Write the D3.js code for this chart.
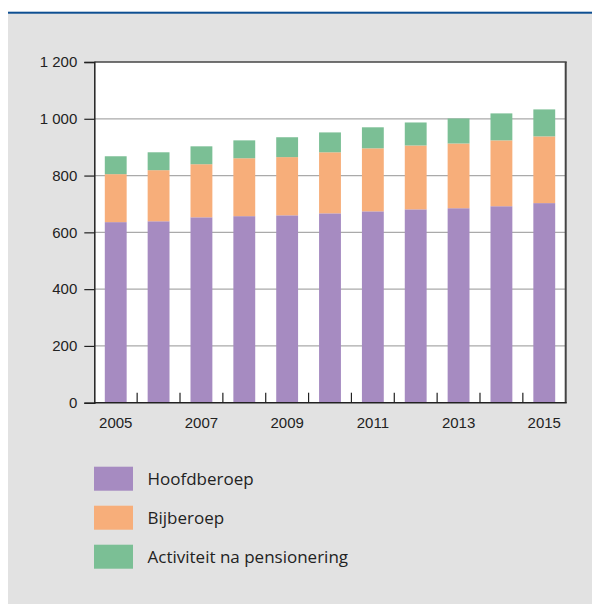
<!DOCTYPE html>
<html><head><meta charset="utf-8">
<script src="https://cdn.jsdelivr.net/npm/d3@7"></script>
<style>
html,body{margin:0;padding:0;background:#fff;}
svg{display:block;font-family:"Open Sans","Noto Sans",sans-serif;}
</style></head>
<body><svg id="c" width="592" height="604"></svg>
<script>
const years = ["2005","2006","2007","2008","2009","2010","2011","2012","2013","2014","2015"];
const hoofdberoep = [636, 639, 653, 657, 660, 667, 674, 681, 685, 692, 703];
const bijberoep = [169, 180, 187, 204, 205, 215, 222, 225, 228, 232, 235];
const pensionering = [63, 63, 63, 63, 70, 70, 74, 81, 88, 95, 95];
const seriesNames = ["Hoofdberoep", "Bijberoep", "Activiteit na pensionering"];
const colors = ["#a68bc1", "#f7ae7a", "#7bbf95"];
const yTicks = [0, 200, 400, 600, 800, 1000, 1200];
const xLabels = ["2005","2007","2009","2011","2013","2015"];

const svg = d3.select("#c");
svg.append("rect").attr("x", 8).attr("y", 13).attr("width", 584).attr("height", 591).attr("fill", "#e2e2e2");
svg.append("rect").attr("x", 8).attr("y", 11.7).attr("width", 584).attr("height", 2).attr("fill", "#0e4f92");

const L = 94.3, R = 565.7, T = 62, B = 402.7;
const x = d3.scaleBand().domain(years).range([L, R]).paddingInner(0.49).paddingOuter(0.245);
const y = d3.scaleLinear().domain([0, 1200]).range([B, T]);

svg.append("rect").attr("x", L).attr("y", T).attr("width", R - L).attr("height", B - T).attr("fill", "#fff");

// gridlines
svg.append("g").selectAll("line").data(yTicks.filter(d => d > 0 && d < 1200)).join("line")
  .attr("x1", L).attr("x2", R).attr("y1", d => y(d)).attr("y2", d => y(d))
  .attr("stroke", "#aaa").attr("stroke-width", 1.2);

const table = years.map((yr, i) => ({year: yr, h: hoofdberoep[i], b: bijberoep[i], p: pensionering[i]}));
const stack = d3.stack().keys(["h", "b", "p"])(table);

svg.append("g").selectAll("g").data(stack).join("g")
  .attr("fill", (d, i) => colors[i])
  .selectAll("rect").data(d => d).join("rect")
  .attr("x", d => x(d.data.year)).attr("width", x.bandwidth())
  .attr("y", d => y(d[1])).attr("height", d => y(d[0]) - y(d[1]));

// frame top/right
svg.append("line").attr("x1", L).attr("x2", R + 1).attr("y1", T).attr("y2", T).attr("stroke", "#444").attr("stroke-width", 1.5);
svg.append("line").attr("x1", R).attr("x2", R).attr("y1", T).attr("y2", B).attr("stroke", "#444").attr("stroke-width", 2);

// y axis
const yAxis = svg.append("g").attr("transform", `translate(${L},0)`)
  .call(d3.axisLeft(y).tickValues(yTicks).tickSize(10).tickPadding(7)
    .tickFormat(d => d3.format(",")(d).replace(",", " ")));
yAxis.select(".domain").attr("stroke", "#222").attr("stroke-width", 1.5);
yAxis.selectAll(".tick line").attr("stroke", "#222").attr("stroke-width", 1.2);
yAxis.selectAll("text").attr("font-size", 15).attr("fill", "#222");

// x axis
const xAxis = svg.append("g").attr("transform", `translate(0,${B})`)
  .call(d3.axisBottom(x).tickSize(0).tickPadding(15).tickFormat(d => xLabels.includes(d) ? d : ""));
xAxis.select(".domain").attr("d", `M${L},0H${R + 1}`).attr("stroke", "#222").attr("stroke-width", 1.5);
xAxis.selectAll("text").attr("font-size", 15).attr("fill", "#222");

// inner ticks at band boundaries
const bounds = years.slice(1).map(yr => x(yr) - x.step() * x.paddingInner() / 2);
svg.append("g").selectAll("line").data(bounds).join("line")
  .attr("x1", d => d).attr("x2", d => d).attr("y1", B - 10).attr("y2", B)
  .attr("stroke", "#222").attr("stroke-width", 1.2);

// legend
const lg = svg.append("g").selectAll("g").data(seriesNames).join("g")
  .attr("transform", (d, i) => `translate(94,${466.7 + i * 39})`);
lg.append("rect").attr("width", 39).attr("height", 24).attr("fill", (d, i) => colors[i]);
lg.append("text").attr("x", 53.5).attr("y", 12).attr("dy", "0.35em").attr("font-size", 17)
  .attr("fill", "#222").text(d => d);
</script></body></html>
